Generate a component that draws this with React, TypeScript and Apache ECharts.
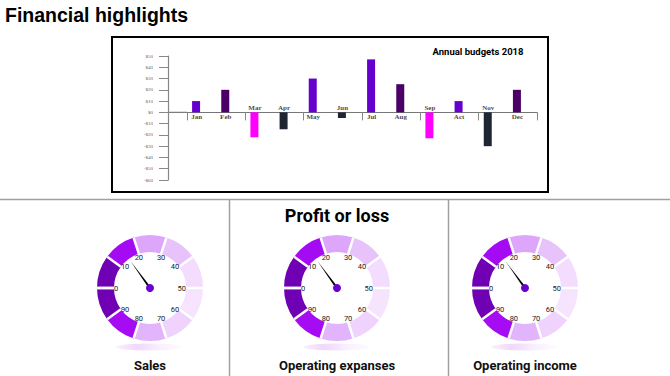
import React, { useEffect, useRef } from "react";
import * as echarts from "echarts";

const CATEGORIES = ["Jan", "Feb", "Mar", "Apr", "May", "Jun", "Jul", "Aug", "Sep", "Act", "Nov", "Dec"];
const BUDGET = [10, 20, -22, -15, 30, -5, 47, 25, -23, 10, -30, 20];
const BAR_COLORS = [
  "#6600cc", "#4a0066", "#ff00ff", "#1f2633", "#6600cc", "#1f2633",
  "#6600cc", "#4a0066", "#ff00ff", "#6600cc", "#1f2633", "#4a0066",
];
const Y_MIN = -60;
const Y_MAX = 50;
const Y_STEP = 10;

const GAUGE_NAMES = ["Sales", "Operating expanses", "Operating income"];
const GAUGE_VALUES = [15, 15, 15];
const GAUGE_MIN = 0;
const GAUGE_MAX = 100;
const GAUGE_SEGMENT_COLORS = [
  "#7000b3", "#a40bf2", "#dda6fa", "#e8c2fb", "#f3dcfd",
  "#f6e3fe", "#efd3fd", "#e2b4fb", "#a60cf4", "#7000b3",
];

const GAUGE_CENTERS: [number, number][] = [
  [150, 288],
  [337, 288],
  [525, 288],
];
const GAUGE_R = 53;
const RING_W = 17;

export default function App() {
  const ref = useRef<HTMLDivElement>(null);

  useEffect(() => {
    document.body.style.margin = "0";
    const chart = echarts.init(ref.current!, undefined, { renderer: "svg" });

    const gridLeft = 187;
    const gridRight = 133;
    const gridTop = 56;
    const gridHeight = 124;
    const yOffset = 19;

    const stops: [number, string][] = GAUGE_SEGMENT_COLORS.map((c, i) => [
      (i + 1) / GAUGE_SEGMENT_COLORS.length,
      c,
    ]);

    const gaugeSeries = GAUGE_NAMES.map((name, i) => ({
      type: "gauge",
      center: GAUGE_CENTERS[i],
      radius: GAUGE_R,
      startAngle: 180,
      endAngle: -180,
      min: GAUGE_MIN,
      max: GAUGE_MAX,
      splitNumber: 10,
      axisLine: { lineStyle: { width: RING_W, color: stops } },
      splitLine: {
        show: true,
        distance: -RING_W,
        length: RING_W,
        lineStyle: { color: "#ffffff", width: 2.5 },
      },
      axisTick: { show: false },
      axisLabel: {
        show: true,
        distance: 17,
        color: "#222",
        fontSize: 7.5,
        fontFamily: "Roboto",
        formatter: (v: number) => (v >= GAUGE_MAX ? "" : String(v)),
      },
      pointer: {
        show: true,
        icon: "path://M1 0 L2 100 L0 100 Z",
        length: 33,
        width: 2.2,
        offsetCenter: [0, 0],
        itemStyle: { color: "#000" },
      },
      anchor: {
        show: true,
        showAbove: true,
        size: 8,
        itemStyle: { color: "#6a00d4" },
      },
      title: {
        show: true,
        offsetCenter: [0, 77],
        fontSize: 13,
        fontWeight: "bold",
        fontFamily: "Roboto",
        color: "#111",
      },
      detail: { show: false },
      data: [{ value: GAUGE_VALUES[i], name }],
    }));

    const reflections = GAUGE_CENTERS.map(([cx, cy]) => ({
      type: "ellipse",
      shape: { cx, cy: cy + GAUGE_R + 6, rx: 34, ry: 3.5 },
      style: {
        fill: new echarts.graphic.LinearGradient(0, 0, 1, 0, [
          { offset: 0, color: "rgba(166,12,244,0.06)" },
          { offset: 0.3, color: "rgba(166,12,244,0.16)" },
          { offset: 0.6, color: "rgba(221,166,250,0.2)" },
          { offset: 1, color: "rgba(233,196,251,0.05)" },
        ]),
      },
      silent: true,
    }));

    const baseGraphic: any[] = [
      {
        type: "text",
        left: 5,
        top: 5,
        style: {
          text: "Financial highlights",
          fontSize: 19.5,
          fontWeight: "bold",
          fontFamily: "Liberation Sans",
          fill: "#000",
        },
      },
      {
        type: "rect",
        shape: { x: 112, y: 37, width: 436, height: 155 },
        style: { fill: "none", stroke: "#000", lineWidth: 2 },
        silent: true,
      },
      {
        type: "text",
        x: 478,
        y: 51,
        style: {
          text: "Annual budgets 2018",
          fontSize: 9.5,
          fontWeight: "bold",
          fontFamily: "Roboto",
          fill: "#000",
          align: "center",
          verticalAlign: "middle",
        },
      },
      {
        type: "line",
        shape: { x1: 0, y1: 199.5, x2: 670, y2: 199.5 },
        style: { stroke: "#a0a0a0", lineWidth: 1.5 },
        silent: true,
      },
      {
        type: "line",
        shape: { x1: 229.5, y1: 200, x2: 229.5, y2: 376 },
        style: { stroke: "#a0a0a0", lineWidth: 1.5 },
        silent: true,
      },
      {
        type: "line",
        shape: { x1: 448.5, y1: 200, x2: 448.5, y2: 376 },
        style: { stroke: "#a0a0a0", lineWidth: 1.5 },
        silent: true,
      },
      {
        type: "text",
        x: 337,
        y: 215,
        style: {
          text: "Profit or loss",
          fontSize: 18,
          fontWeight: "bold",
          fontFamily: "Roboto",
          fill: "#000",
          align: "center",
          verticalAlign: "middle",
        },
      },
      ...reflections,
    ];

    const option: any = {
      animation: false,
      backgroundColor: "#fff",
      grid: {
        left: gridLeft,
        right: gridRight,
        top: gridTop,
        height: gridHeight,
        containLabel: false,
      },
      xAxis: {
        type: "category",
        data: CATEGORIES,
        boundaryGap: true,
        axisLine: { show: true, onZero: true, lineStyle: { color: "#777", width: 1.2 } },
        axisTick: { show: true, length: 8, lineStyle: { color: "#888", width: 1 } },
        axisLabel: { show: false },
        splitLine: { show: false },
      },
      yAxis: {
        type: "value",
        min: Y_MIN,
        max: Y_MAX,
        interval: Y_STEP,
        offset: yOffset,
        axisLine: { show: true, lineStyle: { color: "#888", width: 1.2 } },
        axisTick: { show: true, length: 9, lineStyle: { color: "#888", width: 1 } },
        axisLabel: {
          show: true,
          margin: 15,
          fontSize: 5,
          color: "#666",
          fontFamily: "Liberation Serif",
          formatter: (v: number) => (v < 0 ? "-$" + -v : "$" + v),
        },
        splitLine: { show: false },
      },
      series: [
        {
          type: "bar",
          barWidth: 8,
          barGap: "37.5%",
          data: BUDGET.map((v, i) => ({ value: v, itemStyle: { color: BAR_COLORS[i] } })),
        },
        {
          type: "bar",
          barWidth: 8,
          data: BUDGET.map(() => "-"),
        },
        {
          type: "scatter",
          symbolSize: 0,
          silent: true,
          data: BUDGET.map((v) => ({
            value: 0,
            label: { position: v >= 0 ? "bottom" : "top" },
          })),
          label: {
            show: true,
            distance: 1,
            offset: [-5, 0],
            fontSize: 7,
            fontWeight: "bold",
            fontFamily: "Liberation Serif",
            color: "#111",
            formatter: (p: any) => p.name,
          },
        },
        ...gaugeSeries,
      ],
      graphic: baseGraphic,
    };

    chart.setOption(option);

    const y0 = chart.convertToPixel({ yAxisIndex: 0 }, 0) as number;
    const axisX = gridLeft - yOffset;
    chart.setOption({
      graphic: [
        ...baseGraphic,
        {
          type: "line",
          shape: { x1: axisX, y1: y0, x2: gridLeft, y2: y0 },
          style: { stroke: "#777", lineWidth: 1.2 },
          silent: true,
        },
      ],
    });

    return () => chart.dispose();
  }, []);

  return (
    <div
      ref={ref}
      style={{ position: "absolute", left: 0, top: 0, width: 670, height: 376, background: "#fff" }}
    />
  );
}
